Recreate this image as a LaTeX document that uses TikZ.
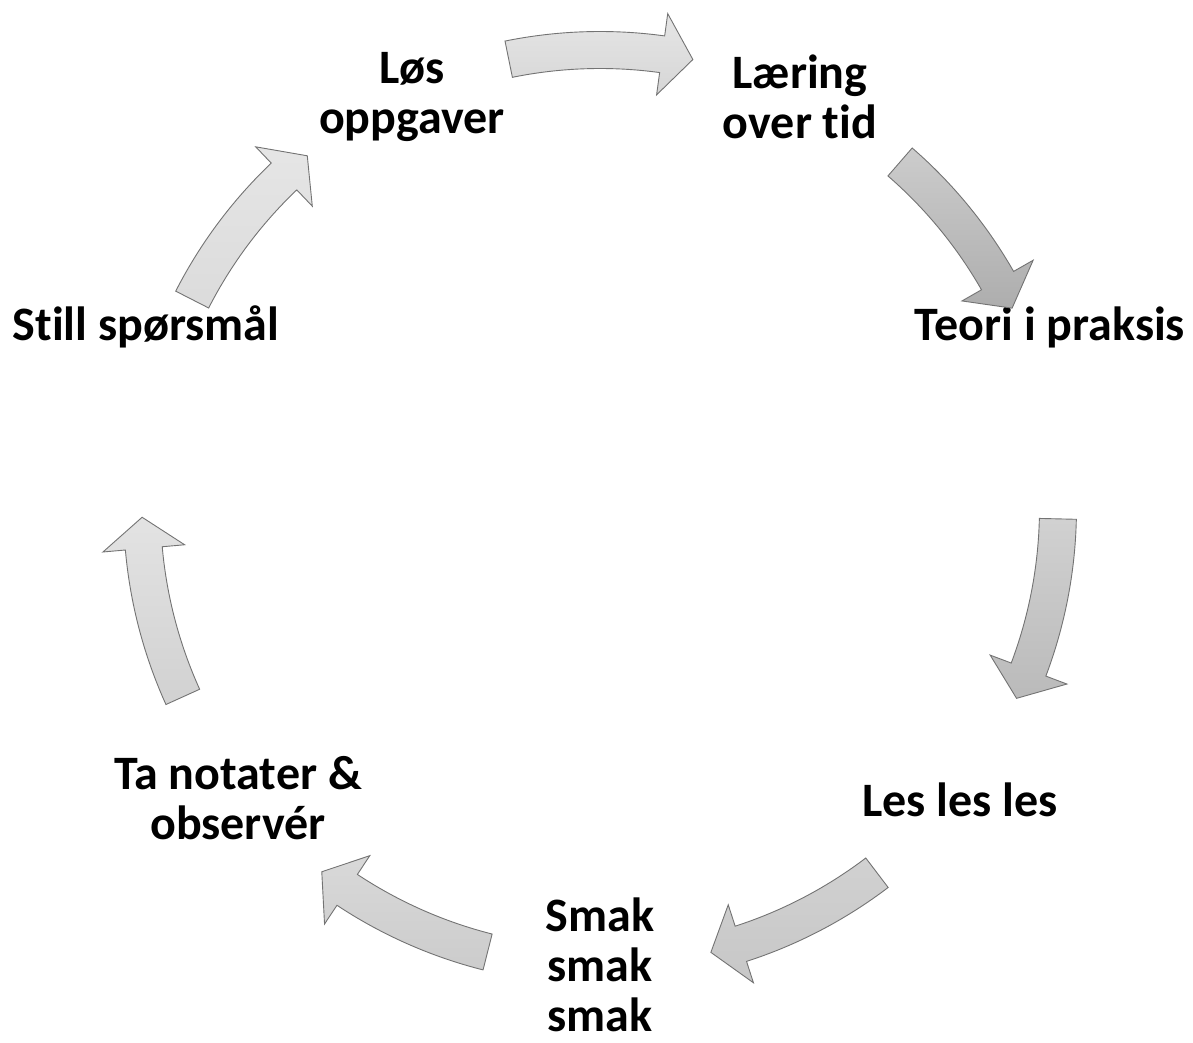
\documentclass[tikz,border=0pt]{standalone}
\usepackage{fontspec}
\setsansfont{Carlito}[Ligatures=NoCommon]
\usepackage{tikz}
\usetikzlibrary{arrows.meta}
\usetikzlibrary{calc,positioning}

\tikzset{
  steplabel/.style={font=\sffamily\bfseries\fontsize{48}{50}\selectfont, align=center, inner sep=0pt},
  cyclearrow/.style={draw=black!55, line width=0.9pt, line join=miter}
}

\begin{document}
\begin{tikzpicture}[>=Stealth, x=1pt, y=1pt]

    \useasboundingbox (0,0) rectangle (1193,1043);

    % labels round the cycle
    \node[steplabel] (los)     at (412,946) {Løs\\oppgaver};
    \node[steplabel] (laering) at (800,946) {Læring\\over tid};
    \node[steplabel] (teori)   at (1050,716) {Teori i praksis};
    \node[steplabel] (les)     at (960,243) {Les les les};
    \node[steplabel] (smak)    at (600,78) {Smak\\smak\\smak};
    \node[steplabel] (notat)   at (238,245) {Ta notater \&\\observér};
    \node[steplabel] (still)   at (146,716) {Still spørsmål};

    % curved block arrows, centre angle / top shade / bottom shade
    \begin{scope}[shift={(600,535)}]
    \foreach \c/\tc/\bc in {90/10/16, 37.57/20/32, -12.86/18/27, -64.29/18/22,
                            -115.71/15/20, -167.14/11/18, 141.43/10/14}{
        \pgfmathsetmacro{\ta}{\c+11.5}
        \pgfmathsetmacro{\hb}{\c-7.8}
        \pgfmathsetmacro{\tp}{\c-11.7}
        \draw[cyclearrow, top color=black!\tc, bottom color=black!\bc]
            (\ta:476.5) arc[start angle=\ta, end angle=\hb, radius=476.5]
            -- (\hb:499) -- (\tp:458) -- (\hb:417) -- (\hb:439.5)
            arc[start angle=\hb, end angle=\ta, radius=439.5] -- cycle;
    }
    \end{scope}

\end{tikzpicture}
\end{document}
